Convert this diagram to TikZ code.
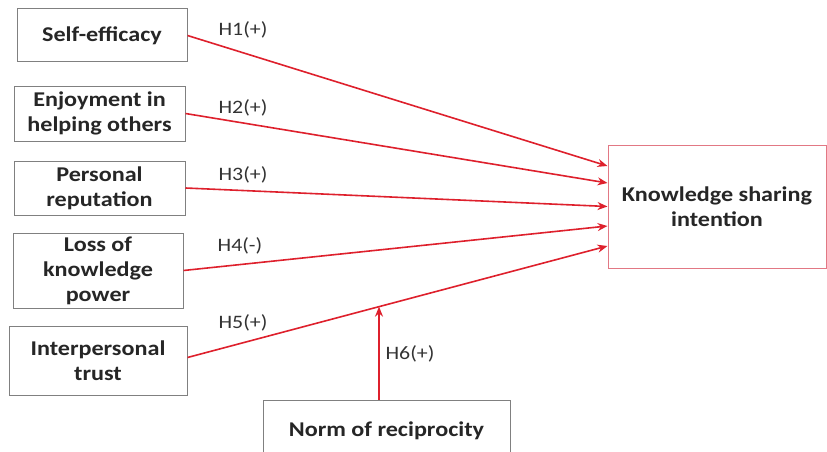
\documentclass[tikz,border=0pt]{standalone}
\usepackage{fontspec}
\setmainfont{Carlito}[FakeStretch=1.15]
\usetikzlibrary{arrows.meta}
\definecolor{hyred}{RGB}{222,32,44}
\definecolor{ksiedge}{RGB}{226,120,132}

\begin{document}
\begin{tikzpicture}[x=1pt, y=-1pt,
	every node/.style={font=\fontsize{21}{25}\selectfont\bfseries, text=black!85},
	factor/.style={draw=black!50, line width=1pt, fill=white, align=center, inner sep=0pt},
	hyp/.style={font=\fontsize{19}{22}\selectfont, text=black!80},
	link/.style={draw=hyred, line width=1.6pt, -{Stealth[length=10pt,width=8pt]}}]
	\useasboundingbox (0,0) rectangle (827,452);
	% antecedents
	\node[factor, minimum width=170pt, minimum height=53pt] (se) at (102,35.5) {Self-efficacy};
	\node[factor, minimum width=171pt, minimum height=55pt] (eh) at (99.5,113.5) {Enjoyment in\\helping others};
	\node[factor, minimum width=171pt, minimum height=54pt] (pr) at (99.5,188) {Personal\\reputation};
	\node[factor, minimum width=170pt, minimum height=75pt] (lk) at (98,270.5) {Loss of\\knowledge\\power};
	\node[factor, minimum width=178pt, minimum height=69pt] (it) at (98,360.5) {Interpersonal\\trust};
	% outcome and moderator
	\node[factor, draw=ksiedge, minimum width=218pt, minimum height=123pt] (ksi) at (717,206.5) {Knowledge sharing\\intention};
	\node[factor, minimum width=247pt, minimum height=62pt] (nr) at (386.5,431) {Norm of reciprocity};
	\coordinate (k1) at ([yshift=40.5pt]ksi.west);
	\coordinate (k2) at ([yshift=23.5pt]ksi.west);
	\coordinate (k3) at (ksi.west);
	\coordinate (k4) at ([yshift=-19.5pt]ksi.west);
	\coordinate (k5) at ([yshift=-39.5pt]ksi.west);
	% hypotheses
	\draw[link] (se.east) -- (k1);
	\draw[link] (eh.east) -- (k2);
	\draw[link] (pr.east) -- (k3);
	\draw[link] (lk.east) -- (k4);
	\draw[link] ([yshift=3pt]it.east) -- coordinate[pos=0.456] (mod) (k5);
	\draw[link] (mod |- nr.north) -- (mod);
	\node[hyp] (h1) at (243,30) {H1(+)};
	\node[hyp] (h2) at (243,108) {H2(+)};
	\node[hyp] (h3) at (243,175) {H3(+)};
	\node[hyp] (h4) at (240,246) {H4(-)};
	\node[hyp] (h5) at (243,323) {H5(+)};
	\node[hyp] (h6) at (410,354) {H6(+)};
\end{tikzpicture}
\end{document}
